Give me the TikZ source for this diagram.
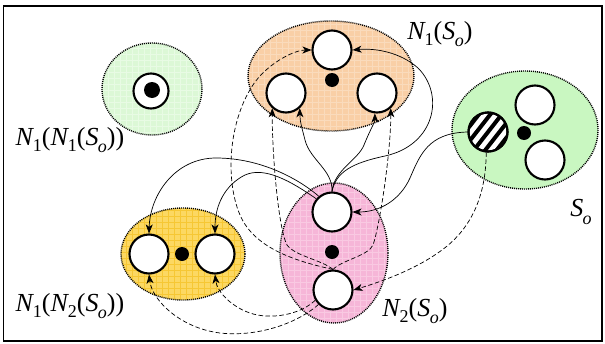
\documentclass[tikz,border=0pt]{standalone}
\usepackage{fontspec}
\setmainfont{Liberation Serif}
\usetikzlibrary{arrows.meta,calc}
\definecolor{gA}{HTML}{DCF8D6}
\definecolor{gAg}{HTML}{E8FBE4}
\definecolor{orF}{HTML}{F9CFA6}
\definecolor{orG}{HTML}{FADBBC}
\definecolor{gB}{HTML}{C9F7C1}
\definecolor{gBg}{HTML}{C9F7C1}
\definecolor{yeF}{HTML}{FCD862}
\definecolor{yeG}{HTML}{F6C734}
\definecolor{piF}{HTML}{F6B6D8}
\definecolor{piG}{HTML}{F9C9E2}
\newcommand{\Nx}[1]{\textit{N}\kern-0.05em\raisebox{-0.22em}{\fontsize{18}{18}\selectfont #1}}
\newcommand{\Sx}{\textit{S}\kern-0.02em\raisebox{-0.28em}{\fontsize{18}{18}\selectfont\textit{o}}}
\newcommand{\blob}[6]{%
  \begin{scope}
    \clip (#1,#2) ellipse [x radius=#3, y radius=#4];
    \fill[#5] (#1-#3,#2-#4) rectangle (#1+#3,#2+#4);
    \draw[#6,line width=0.45pt,step=6pt] (#1-#3,#2-#4) grid (#1+#3,#2+#4);
  \end{scope}
  \draw[border] (#1,#2) ellipse [x radius=#3, y radius=#4];}
\begin{document}
\begin{tikzpicture}[x=1pt,y=-1pt,
  wc/.style={circle,draw,line width=2.1pt,fill=white,minimum size=39pt,inner sep=0pt},
  conn/.style={line width=0.7pt,-{Stealth[length=9pt,width=7pt,inset=2.5pt]}},
  dconn/.style={conn,dash pattern=on 4.5pt off 2.5pt},
  border/.style={line width=1.4pt,dash pattern=on 1pt off 1pt},
  lab/.style={font=\fontsize{26}{30}\selectfont,inner sep=0pt}]
\useasboundingbox (0,0) rectangle (605,343);
\draw[line width=1.2pt] (3.5,6) rectangle (602,341);
% regions
\blob{152}{89}{50}{46}{gA}{gAg}
\blob{331}{76}{83}{55}{orF}{orG}
\blob{525}{130}{73}{59}{gB}{gBg}
\blob{183}{254}{62}{46}{yeF}{yeG}
\blob{334}{253}{54}{70}{piF}{piG}
% circles
\node[wc] (o1) at (332,50) {};
\node[wc] (o2) at (286,93) {};
\node[wc] (o3) at (377,93) {};
\node[wc] (p1) at (332,212) {};
\node[wc] (p2) at (333,290) {};
\node[wc] (y1) at (149,254) {};
\node[wc] (y2) at (215,254) {};
\node[wc] (s1) at (488,132) {};
\node[wc] (s2) at (535,105) {};
\node[wc] (s3) at (545,160) {};
\node[wc,minimum size=35pt] (c0) at (151,91) {};
% stripes
\begin{scope}
  \clip (488,132) circle [radius=19.5pt];
  \foreach \k in {-3,...,3}
    \draw[line width=4pt,rotate around={52:(488,132)}] (455,132+\k*9) -- (521,132+\k*9);
\end{scope}
\draw[line width=2.1pt] (s1.center) circle [radius=19.5pt];
% dots
\fill (332,80) circle [radius=7];
\fill (332,252) circle [radius=7];
\fill (182,254) circle [radius=7];
\fill (524,133) circle [radius=7];
\fill (152,90) circle [radius=8];
% solid connectors
\draw[conn] (s1.west) .. controls (428,133) and (420,155) .. (410,178) .. controls (400,200) and (380,212) .. (p1.east);
\draw[conn] (p1.north) .. controls (333,170) and (310,160) .. (305,140) .. controls (302,128) and (300,122) .. (o2.-48);
\draw[conn] (p1.north) .. controls (334,170) and (358,160) .. (364,145) .. controls (370,130) and (375,122) .. (o3.-96);
\draw[conn] (p1.north) .. controls (336,172) and (352,163) .. (385,156) .. controls (435,145) and (445,95) .. (418,68) .. controls (400,52) and (375,48) .. (o1.east);
\draw[conn] (p1.130) .. controls (300,180) and (262,158) .. (216,158) .. controls (175,158) and (150,195) .. (y1.north);
\draw[conn] (p1.140) .. controls (292,182) and (265,166) .. (245,175) .. controls (225,185) and (215,205) .. (y2.north);
% dashed connectors
\draw[dconn] (s1.-95) .. controls (486,195) and (472,228) .. (442,250) .. controls (415,270) and (380,282) .. (p2.east);
\draw[dconn] (p2.north) .. controls (322,260) and (295,256) .. (287,245) .. controls (278,228) and (272,150) .. (o2.-132);
\draw[dconn] (p2.north) .. controls (342,260) and (368,256) .. (373,245) .. controls (380,225) and (391,150) .. (o3.-48);
\draw[dconn] (p2.north) .. controls (300,262) and (255,250) .. (240,215) .. controls (225,180) and (228,120) .. (255,82) .. controls (270,62) and (295,50) .. (o1.west);
\draw[dconn] (p2.-135) .. controls (295,325) and (255,337) .. (220,333) .. controls (180,328) and (152,300) .. (y1.south);
\draw[dconn] (p2.-150) .. controls (300,315) and (270,320) .. (250,313) .. controls (232,307) and (217,292) .. (y2.south);
% labels
\node[lab] (l1) at (440,34) {\Nx{1}(\Sx)};
\node[lab] (l2) at (70,140) {\Nx{1}(\Nx{1}(\Sx))};
\node[lab] (l3) at (70,306) {\Nx{1}(\Nx{2}(\Sx))};
\node[lab] (l4) at (415,311) {\Nx{2}(\Sx)};
\node[lab] (l5) at (581,212) {\Sx};
\end{tikzpicture}
\end{document}
